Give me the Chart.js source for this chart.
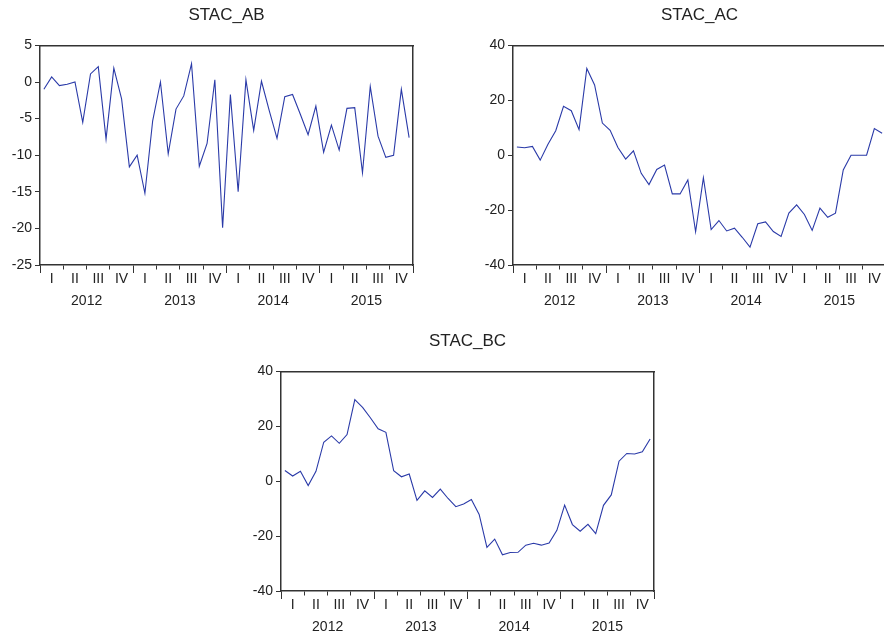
<!DOCTYPE html>
<html>
<head>
<meta charset="utf-8">
<title>STAC</title>
<script src="https://cdn.jsdelivr.net/npm/chart.js@4.4.1/dist/chart.umd.min.js"></script>
<style>
  html, body { margin: 0; padding: 0; background: #fff; overflow: hidden; }
  body { width: 884px; height: 635px; position: relative; }
  canvas { position: absolute; }
</style>
</head>
<body>
<canvas id="cAB" width="430" height="310" style="left:0px;top:0px"></canvas>
<canvas id="cAC" width="420" height="310" style="left:473px;top:0px"></canvas>
<canvas id="cBC" width="430" height="310" style="left:241px;top:326px"></canvas>
<script>
(function () {
  'use strict';

  // monthly observations, Jan 2012 .. Dec 2015
  var YEARS = ['2012', '2013', '2014', '2015'];
  var QUARTERS = ['I', 'II', 'III', 'IV'];

  var STAC_AB = [
    -1.0, 0.7, -0.5, -0.3, 0.0, -5.5, 1.1, 2.1, -7.8, 1.9, -2.3, -11.6,
    -10.0, -15.2, -5.3, 0.0, -9.8, -3.7, -1.9, 2.5, -11.5, -8.4, 0.3, -19.9,
    -1.7, -15.0, 0.3, -6.6, 0.1, -3.9, -7.7, -2.0, -1.7, -4.4, -7.2, -3.3,
    -9.6, -5.9, -9.3, -3.6, -3.5, -12.4, -0.6, -7.4, -10.3, -10.0, -1.0, -7.6
  ];
  var STAC_AC = [
    3.0, 2.7, 3.2, -1.8, 4.0, 8.9, 17.8, 16.2, 9.3, 31.6, 25.6, 11.7,
    9.1, 2.8, -1.4, 1.6, -6.6, -10.7, -5.2, -3.6, -14.1, -14.1, -9.0, -27.9,
    -8.2, -27.1, -23.8, -27.6, -26.6, -29.9, -33.5, -25.0, -24.3, -27.8, -29.6, -21.1,
    -18.1, -21.6, -27.4, -19.3, -22.6, -21.1, -5.4, 0.0, 0.0, 0.0, 9.7, 8.0
  ];
  var STAC_BC = [
    3.9, 1.9, 3.6, -1.6, 3.6, 14.2, 16.5, 13.8, 17.0, 29.7, 26.9, 23.1,
    19.1, 17.8, 3.8, 1.6, 2.6, -7.0, -3.5, -5.9, -2.9, -6.3, -9.3, -8.3,
    -6.7, -12.1, -24.1, -21.1, -26.8, -26.0, -25.9, -23.3, -22.6, -23.3, -22.5, -17.9,
    -8.7, -15.8, -18.2, -15.7, -19.1, -8.8, -5.0, 7.3, 10.1, 9.9, 10.7, 15.4
  ];

  var LINE_COLOR = '#2a3aa8';
  var AXIS_COLOR = '#333333';
  var TEXT_COLOR = '#222222';
  var FONT = 'Arial, "Liberation Sans", Helvetica, sans-serif';

  Chart.defaults.font.family = FONT;
  Chart.defaults.color = TEXT_COLOR;

  function toPoints(values) {
    return values.map(function (v, i) { return { x: i + 0.5, y: v }; });
  }

  // quarter labels sit between quarter ticks, year label on a second line
  function xLabel(value) {
    if (value % 3 === 1.5) return QUARTERS[Math.floor(value / 3) % 4];
    if (value % 12 === 6) return ['', YEARS[Math.floor(value / 12)]];
    return '';
  }

  function makeChart(id, title, values, yMin, yMax, yStep, padRight) {
    var nMonths = values.length;
    return new Chart(document.getElementById(id), {
      type: 'line',
      data: {
        datasets: [{
          data: toPoints(values),
          borderColor: LINE_COLOR,
          borderWidth: 1.1,
          pointRadius: 0,
          tension: 0,
          fill: false
        }]
      },
      options: {
        responsive: false,
        animation: false,
        devicePixelRatio: 1,
        layout: { padding: { left: 0, right: padRight, top: 0, bottom: 0 } },
        plugins: {
          legend: { display: false },
          tooltip: { enabled: false },
          title: {
            display: true,
            text: title,
            fullSize: false,
            color: TEXT_COLOR,
            font: { size: 17, weight: 'normal', family: FONT },
            padding: { top: 5, bottom: 20 }
          }
        },
        scales: {
          x: {
            type: 'linear',
            position: 'bottom',
            min: 0,
            max: nMonths,
            afterBuildTicks: function (scale) {
              var t = [];
              for (var v = 0; v <= nMonths; v += 1.5) t.push({ value: v });
              scale.ticks = t;
            },
            afterFit: function (scale) { scale.height = 45; },
            border: { display: true, color: AXIS_COLOR, width: 1.5 },
            grid: {
              drawOnChartArea: false,
              drawTicks: true,
              tickLength: 8,
              tickWidth: 1,
              tickColor: function (ctx) {
                return ctx.tick && ctx.tick.value % 3 === 0 ? AXIS_COLOR : 'rgba(0,0,0,0)';
              },
              tickBorderDash: function (ctx) {
                return ctx.tick && ctx.tick.value % 12 === 0 ? [] : [4, 50];
              }
            },
            ticks: {
              autoSkip: false,
              maxRotation: 0,
              padding: -5,
              color: TEXT_COLOR,
              font: { size: 14, lineHeight: 1.57 },
              callback: xLabel
            }
          },
          xTop: {
            type: 'linear',
            position: 'top',
            afterFit: function (scale) { scale.height = 0; },
            border: { display: true, color: AXIS_COLOR, width: 1.5 },
            grid: { drawOnChartArea: false, drawTicks: false },
            ticks: { display: false }
          },
          y: {
            type: 'linear',
            position: 'left',
            min: yMin,
            max: yMax,
            afterFit: function (scale) { scale.width = 40; },
            border: { display: true, color: AXIS_COLOR, width: 1.5 },
            grid: { drawOnChartArea: false, tickLength: 5, tickColor: AXIS_COLOR },
            ticks: {
              stepSize: yStep,
              padding: 3,
              color: TEXT_COLOR,
              font: { size: 14 }
            }
          },
          yRight: {
            type: 'linear',
            position: 'right',
            afterFit: function (scale) { scale.width = 0; },
            border: { display: true, color: AXIS_COLOR, width: 1.5 },
            grid: { drawOnChartArea: false, drawTicks: false },
            ticks: { display: false }
          }
        }
      }
    });
  }

  makeChart('cAB', 'STAC_AB', STAC_AB, -25, 5, 5, 17);
  makeChart('cAC', 'STAC_AC', STAC_AC, -40, 40, 20, 7);
  makeChart('cBC', 'STAC_BC', STAC_BC, -40, 40, 20, 17);
})();
</script>
</body>
</html>
